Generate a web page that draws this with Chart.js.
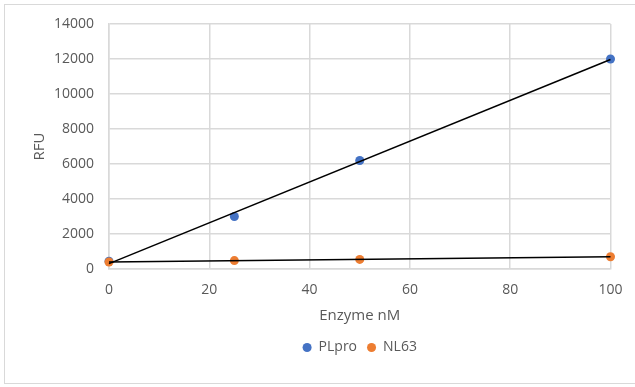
<!DOCTYPE html>
<html>
<head>
<meta charset="utf-8">
<script src="https://cdn.jsdelivr.net/npm/chart.js@4.4.1/dist/chart.umd.min.js"></script>
<style>
  body { margin: 0; background: #fff; }
  #wrap { position: relative; width: 635px; height: 387px; overflow: hidden; }
  #frame {
    position: absolute; left: 4px; top: 4px; width: 700px; height: 380px;
    border: 1.5px solid #d9d9d9; box-sizing: border-box;
  }
  canvas { position: absolute; left: 0; top: 0; }
</style>
</head>
<body>
<div id="wrap">
  <div id="frame"></div>
  <canvas id="chart" width="635" height="387"></canvas>
</div>
<script>
const enzymeNM = [0, 25, 50, 100];
const plproRFU = [450, 3000, 6200, 12000];
const nl63RFU = [400, 480, 550, 700];
const xTicks = [0, 20, 40, 60, 80, 100];
const yTicks = [0, 2000, 4000, 6000, 8000, 10000, 12000, 14000];

const textColor = "#595959";
const gridColor = "#d9d9d9";
const fontFamily = "'Open Sans', sans-serif";

// Linear least squares trendline, evaluated at the axis ends
function trend(xs, ys) {
  const n = xs.length;
  const mx = xs.reduce((a, b) => a + b, 0) / n;
  const my = ys.reduce((a, b) => a + b, 0) / n;
  let sxy = 0, sxx = 0;
  for (let i = 0; i < n; i++) {
    sxy += (xs[i] - mx) * (ys[i] - my);
    sxx += (xs[i] - mx) * (xs[i] - mx);
  }
  const slope = sxy / sxx;
  const icpt = my - slope * mx;
  const x0 = xTicks[0], x1 = xTicks[xTicks.length - 1];
  return [{ x: x0, y: icpt + slope * x0 }, { x: x1, y: icpt + slope * x1 }];
}

const toPoints = (ys) => enzymeNM.map((x, i) => ({ x: x, y: ys[i] }));

const ctx = document.getElementById("chart").getContext("2d");

new Chart(ctx, {
  type: "scatter",
  data: {
    datasets: [
      {
        label: "PLpro",
        data: toPoints(plproRFU),
        backgroundColor: "#4472c4",
        borderWidth: 0,
        pointRadius: 4.5,
        order: 2,
        clip: false,
      },
      {
        label: "NL63",
        data: toPoints(nl63RFU),
        backgroundColor: "#ed7d31",
        borderWidth: 0,
        pointRadius: 4.5,
        order: 1,
        clip: false,
      },
      {
        label: "trend-plpro",
        data: trend(enzymeNM, plproRFU),
        type: "line",
        borderColor: "#000",
        borderWidth: 1.5,
        pointRadius: 0,
        order: 0,
        clip: false,
      },
      {
        label: "trend-nl63",
        data: trend(enzymeNM, nl63RFU),
        type: "line",
        borderColor: "#000",
        borderWidth: 1.5,
        pointRadius: 0,
        order: 0,
        clip: false,
      },
    ],
  },
  options: {
    responsive: false,
    devicePixelRatio: 1,
    animation: false,
    layout: {
      padding: { left: 0, right: 23, top: 24, bottom: 22.5 },
    },
    plugins: {
      tooltip: { enabled: false },
      legend: {
        position: "bottom",
        fullSize: false,
        labels: {
          usePointStyle: true,
          pointStyle: "circle",
          boxWidth: 9,
          boxHeight: 6.4,
          padding: 10,
          color: textColor,
          font: { family: fontFamily, size: 14 },
          filter: (item) => !item.text.startsWith("trend"),
          sort: (a, b) => a.datasetIndex - b.datasetIndex,
        },
      },
    },
    scales: {
      x: {
        type: "linear",
        min: 0,
        max: 100,
        afterBuildTicks: (axis) => {
          axis.ticks = xTicks.map((v) => ({ value: v }));
        },
        afterFit: (axis) => {
          axis.height = 61.5;
        },
        grid: { color: gridColor, lineWidth: 1.5, drawTicks: false },
        border: { color: gridColor, width: 1.5 },
        ticks: {
          color: textColor,
          padding: 12.5,
          font: { family: fontFamily, size: 14 },
        },
        title: {
          display: true,
          text: "Enzyme nM",
          color: textColor,
          font: { family: fontFamily, size: 15 },
          padding: { top: 0, bottom: 5.5 },
        },
      },
      y: {
        type: "linear",
        min: 0,
        max: 14000,
        afterBuildTicks: (axis) => {
          axis.ticks = yTicks.map((v) => ({ value: v }));
        },
        afterFit: (axis) => {
          axis.width = 109;
        },
        grid: { color: gridColor, lineWidth: 1.5, drawTicks: false },
        border: { color: gridColor, width: 1.5 },
        ticks: {
          color: textColor,
          padding: 15,
          font: { family: fontFamily, size: 14 },
          callback: (v) => String(v),
        },
        title: {
          display: true,
          text: "RFU",
          color: textColor,
          font: { family: fontFamily, size: 15 },
          padding: { top: 31, bottom: 0 },
        },
      },
    },
  },
});
</script>
</body>
</html>
